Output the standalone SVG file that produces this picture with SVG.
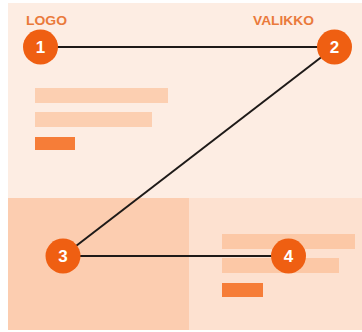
<svg xmlns="http://www.w3.org/2000/svg" width="362" height="332" viewBox="0 0 362 332">
<style>
.lbl{font-family:"Liberation Sans",Arial,sans-serif;font-weight:bold;font-size:13px;fill:#ea7a3b}
.num{font-family:"Liberation Sans",Arial,sans-serif;font-weight:bold;font-size:17px;fill:#ffffff;text-anchor:middle}
.dot{fill:#ef5f12}
.bar{fill:#fccfb1}
.bar2{fill:#fcc8a6}
.dark{fill:#f67d38}
.conn{stroke:#1e1a18;stroke-width:2;fill:none}
</style>
<rect width="362" height="332" fill="#ffffff"/>
<g id="panels">
<rect x="8" y="3" width="354" height="195" fill="#fdede3"/>
<rect x="8" y="198" width="181" height="132" fill="#fccdb0"/>
<rect x="189" y="198" width="173" height="132" fill="#fde1d0"/>
</g>
<g id="content">
<rect class="bar" x="35" y="88" width="133" height="15"/>
<rect class="bar" x="35" y="112" width="117" height="15"/>
<rect class="dark" x="35" y="137" width="40" height="13"/>
<rect class="bar2" x="222" y="234" width="133" height="15"/>
<rect class="bar2" x="222" y="258" width="117" height="15"/>
<rect class="dark" x="222" y="283" width="41" height="14"/>
<text class="lbl" x="26" y="25" textLength="41" lengthAdjust="spacingAndGlyphs">LOGO</text>
<text class="lbl" x="253" y="25" textLength="61" lengthAdjust="spacingAndGlyphs">VALIKKO</text>
</g>
<g id="connectors">
<line class="conn" x1="40.5" y1="47" x2="334.5" y2="47"/>
<line class="conn" x1="334.5" y1="47" x2="63" y2="256"/>
<line class="conn" x1="63" y1="256" x2="288.5" y2="256"/>
</g>
<g id="node1"><circle class="dot" cx="40.5" cy="47" r="17.5"/><text class="num" x="40.5" y="53">1</text></g>
<g id="node2"><circle class="dot" cx="334.5" cy="47" r="17.5"/><text class="num" x="334.5" y="53">2</text></g>
<g id="node3"><circle class="dot" cx="63" cy="256" r="17.5"/><text class="num" x="63" y="262">3</text></g>
<g id="node4"><circle class="dot" cx="288.5" cy="256" r="17.5"/><text class="num" x="288.5" y="262">4</text></g>
</svg>
